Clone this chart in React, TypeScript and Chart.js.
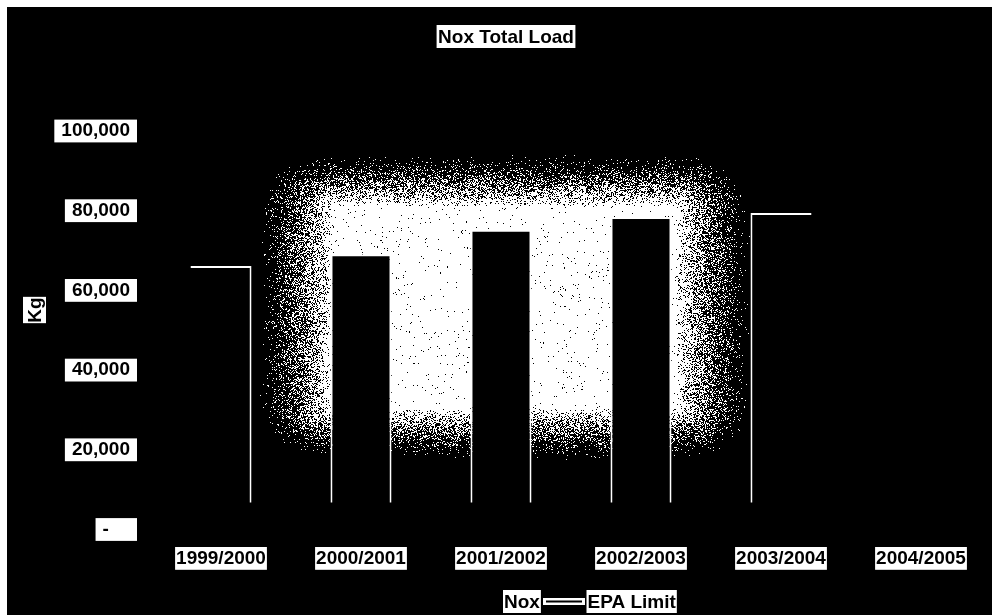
import { useEffect, useRef } from 'react';
import { Chart, registerables } from 'chart.js';

Chart.register(...registerables);

// Seasons on the category axis
const seasons = ['1999/2000', '2000/2001', '2001/2002', '2002/2003', '2003/2004', '2004/2005'];
// NOx total load per season, kg (no figure yet for 2004/2005)
const noxLoadKg: (number | null)[] = [66100, 69100, 75200, 78400, 79400, null];
// EPA limit series (listed in the legend only)
const epaLimitKg: number[] = [];
// Value axis
const yMin = 0;
const yMax = 100000;
const yStep = 20000;

const chartTitle = 'Nox Total Load';
const yAxisTitle = 'Kg';
const noxLabel = 'Nox';
const epaLabel = 'EPA Limit';

const FONT = '"Liberation Sans", Arial, Helvetica, sans-serif';
const FONT_SIZE = 19;

function hash2(x: number, y: number): number {
  let h = (Math.imul(x, 374761393) + Math.imul(y, 668265263)) | 0;
  h = Math.imul(h ^ (h >>> 13), 1274126177);
  h ^= h >>> 16;
  return (h >>> 0) / 4294967296;
}

// Soft, grainy white glow behind the middle bars
function buildGlow(
  w: number,
  h: number,
  core: { x0: number; y0: number; x1: number; y1: number },
  fx: number,
  fy: number,
) {
  const c = document.createElement('canvas');
  c.width = w;
  c.height = h;
  const g = c.getContext('2d')!;
  const img = g.createImageData(w, h);
  for (let y = 0; y < h; y++) {
    for (let x = 0; x < w; x++) {
      const dx = Math.max(core.x0 - x, 0, x - core.x1) / fx;
      const dy = Math.max(core.y0 - y, 0, y - core.y1) / fy;
      const d = Math.sqrt(dx * dx + dy * dy);
      const p = d === 0 ? 0.985 : Math.pow(Math.max(0, 1 - d), 1.5) * 0.95;
      if (hash2(x, y) < p) {
        const i = (y * w + x) * 4;
        img.data[i] = 255;
        img.data[i + 1] = 255;
        img.data[i + 2] = 255;
        img.data[i + 3] = 255;
      }
    }
  }
  g.putImageData(img, 0, 0);
  return c;
}

function boxedText(
  ctx: CanvasRenderingContext2D,
  text: string,
  x: number,
  y: number,
  align: 'left' | 'center',
  padX: number,
) {
  ctx.font = `bold ${FONT_SIZE}px ${FONT}`;
  const w = ctx.measureText(text).width;
  const h = 23;
  const left = align === 'left' ? x : x - w / 2;
  ctx.fillStyle = '#ffffff';
  ctx.fillRect(left - padX, y - h / 2, w + padX * 2, h);
  ctx.fillStyle = '#000000';
  ctx.textAlign = 'left';
  ctx.textBaseline = 'middle';
  ctx.fillText(text, left, y + 1);
}

const paperPlugin = {
  id: 'paper',
  beforeDraw(chart: Chart) {
    const { ctx, width, height } = chart;
    ctx.save();
    ctx.fillStyle = '#ffffff';
    ctx.fillRect(0, 0, width, height);
    ctx.fillStyle = '#000000';
    ctx.fillRect(7, 7, width - 7, height - 7);
    ctx.restore();
  },
};

let glowCache: HTMLCanvasElement | null = null;
const glowPlugin = {
  id: 'glow',
  beforeDatasetsDraw(chart: Chart) {
    const ca = chart.chartArea;
    const ox = ca.left + 105;
    const oy = ca.top + 15;
    const w = 505;
    const h = 330;
    if (!glowCache) {
      const core = {
        x0: ca.left + 181 - ox,
        x1: ca.left + 525 - ox,
        y0: ca.top + 75 - oy,
        y1: ca.top + 277 - oy,
      };
      glowCache = buildGlow(w, h, core, 74, 52);
    }
    chart.ctx.drawImage(glowCache, ox, oy);
  },
  afterDatasetsDraw(chart: Chart) {
    // the bar outlines fade out a little above the baseline
    const ca = chart.chartArea;
    const ctx = chart.ctx;
    ctx.save();
    ctx.fillStyle = '#000000';
    ctx.fillRect(ca.left, ca.bottom - 27, ca.right - ca.left, 28);
    ctx.restore();
  },
};

const labelsPlugin = {
  id: 'boxedLabels',
  afterDraw(chart: Chart) {
    const { ctx } = chart;
    ctx.save();
    // chart title
    boxedText(ctx, chartTitle, 506, 36.5, 'center', 1.5);

    // value axis title, reading upwards
    ctx.save();
    ctx.translate(34.5, 310);
    ctx.rotate(-Math.PI / 2);
    boxedText(ctx, yAxisTitle, 0, 0, 'center', 0.5);
    ctx.restore();

    // legend
    const ds = chart.data.datasets;
    const ly = 601.5;
    ctx.fillStyle = '#000000';
    ctx.fillRect(488, ly - 5, 10, 10);
    boxedText(ctx, String(ds[0].label), 504, ly, 'left', 1);
    ctx.strokeStyle = '#ffffff';
    ctx.lineWidth = 7;
    ctx.beginPath();
    ctx.moveTo(543, ly);
    ctx.lineTo(585, ly);
    ctx.stroke();
    ctx.strokeStyle = '#000000';
    ctx.lineWidth = 2;
    ctx.beginPath();
    ctx.moveTo(546, ly);
    ctx.lineTo(582, ly);
    ctx.stroke();
    boxedText(ctx, String(ds[1].label), 587.5, ly, 'left', 1);
    ctx.restore();
  },
};

export default function App() {
  const canvasRef = useRef<HTMLCanvasElement | null>(null);

  useEffect(() => {
    const canvas = canvasRef.current;
    if (!canvas) return;
    glowCache = null;
    const tickFont = { family: FONT, size: FONT_SIZE, weight: 'bold' as const, lineHeight: 1.2 };
    const lastBar = noxLoadKg.reduce((acc: number, v, i) => (v != null ? i : acc), 0);

    const chart = new Chart(canvas, {
      type: 'bar',
      data: {
        labels: seasons,
        datasets: [
          {
            type: 'bar',
            label: noxLabel,
            data: noxLoadKg,
            backgroundColor: '#000000',
            borderColor: '#ffffff',
            borderWidth: (c: any) => ({
              top: 2,
              bottom: 0,
              left: c.dataIndex === 0 ? 0 : 2,
              right: c.dataIndex === lastBar ? 0 : 2,
            }),
            borderSkipped: 'start',
            barPercentage: 0.436,
            categoryPercentage: 1,
          },
          {
            type: 'line',
            label: epaLabel,
            data: epaLimitKg,
            borderColor: '#ffffff',
            borderWidth: 3,
            pointRadius: 0,
          },
        ],
      } as any,
      plugins: [paperPlugin, glowPlugin, labelsPlugin],
      options: {
        animation: false,
        responsive: false,
        devicePixelRatio: 1,
        layout: { padding: { top: 131, left: 0, right: 1, bottom: 25.5 } },
        plugins: {
          legend: { display: false },
          title: { display: false },
          tooltip: { enabled: false },
        },
        scales: {
          x: {
            grid: { display: false, drawTicks: false },
            border: { display: false },
            afterFit: (scale: any) => {
              scale.height = 60;
            },
            ticks: {
              color: '#000000',
              font: tickFont,
              padding: 17.5,
              maxRotation: 0,
              autoSkip: false,
              showLabelBackdrop: true,
              backdropColor: '#ffffff',
              backdropPadding: { left: 1, right: 1, top: 0, bottom: 0 },
            },
          },
          y: {
            min: yMin,
            max: yMax,
            grid: { display: false, drawTicks: false },
            border: { display: false },
            afterFit: (scale: any) => {
              scale.width = 151;
            },
            ticks: {
              stepSize: yStep,
              color: '#000000',
              font: tickFont,
              padding: 21,
              showLabelBackdrop: true,
              backdropColor: '#ffffff',
              backdropPadding: { left: 7, right: 7, top: 0, bottom: 0 },
              callback: (v: any) => (Number(v) === 0 ? '-    ' : Number(v).toLocaleString('en-US')),
            },
          },
        },
      } as any,
    });

    return () => {
      chart.destroy();
    };
  }, []);

  return (
    <div style={{ position: 'fixed', left: 0, top: 0, width: 992, height: 615 }}>
      <canvas ref={canvasRef} width={992} height={615} style={{ display: 'block' }} />
    </div>
  );
}
